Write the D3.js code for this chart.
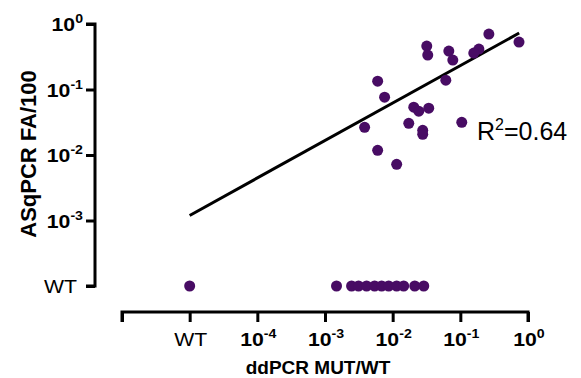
<!DOCTYPE html>
<html>
<head>
<meta charset="utf-8">
<script src="https://cdn.jsdelivr.net/npm/d3@7"></script>
<style>
  body { margin: 0; background: #fff; }
  text { font-family: "Liberation Sans", Arial, sans-serif; fill: #000; }
</style>
</head>
<body>
<div id="chart"></div>
<script>
// detected samples (ddPCR MUT/WT vs ASqPCR FA/100)
const mutX = [0.264, 0.736, 0.188, 0.158, 0.0676, 0.0774, 0.0319, 0.0330, 0.0060, 0.0076,
              0.061, 0.0205, 0.0243, 0.0341, 0.00385, 0.0173, 0.0278, 0.0278, 0.105, 0.0060, 0.01146]
const faY  = [0.703, 0.530, 0.414, 0.360, 0.386, 0.281, 0.461, 0.335, 0.134, 0.0763,
              0.139, 0.0537, 0.0466, 0.0518, 0.0265, 0.0305, 0.0238, 0.0207, 0.0316, 0.0118, 0.0072]
// samples WT by ASqPCR (plotted on the WT row)
const wtRowX = [0.00148, 0.00247, 0.00313, 0.00412, 0.00541, 0.00687, 0.00873, 0.01146, 0.01455, 0.0212, 0.0288]

// log-log fit
const fitSlope = 0.572
const fitIntercept = -0.063
const fitRange = [1e-5, 0.74]
const r2 = "0.64"

const xTicks = [1e-5, 1e-4, 1e-3, 1e-2, 1e-1, 1]
const xTickLabels = ["WT", "-4", "-3", "-2", "-1", "0"]
const yTicks = [1e-4, 1e-3, 1e-2, 1e-1, 1]
const yTickLabels = ["WT", "-3", "-2", "-1", "0"]
const X_WT = 1e-5, Y_WT = 1e-4

const width = 581, height = 378
const svg = d3.select("#chart").append("svg").attr("width", width).attr("height", height)

const x = d3.scaleLog().domain([1e-6, 1]).range([122, 528])
const y = d3.scaleLog().domain([1e-4, 1]).range([286, 24])

const color = "#480c64"
const stretch = 1.18

// axes
const xAxis = svg.append("g").attr("transform", "translate(0,312)")
    .call(d3.axisBottom(x).tickValues([1e-6, ...xTicks]).tickSize(10).tickFormat(""))
xAxis.select(".domain").attr("d", `M${x(1e-6)},10V0H${x(1)}V10`)
xAxis.selectAll("path, line").attr("stroke", "#000").attr("stroke-width", 3)

const yAxis = svg.append("g").attr("transform", "translate(95,0)")
    .call(d3.axisLeft(y).tickValues(yTicks).tickSize(9).tickFormat(""))
yAxis.select(".domain").attr("d", `M-9,${y(1e-4)}H0V${y(1)}H-9`)
yAxis.selectAll("path, line").attr("stroke", "#000").attr("stroke-width", 3)

function label(px, py, anchor, txt) {
    const t = svg.append("g").attr("transform", `translate(${px},${py}) scale(${stretch},1)`)
        .append("text").attr("text-anchor", anchor).style("font-size", "18px")
    if (txt === "WT") {
        t.text("WT")
    } else {
        t.style("font-weight", "bold")
        t.append("tspan").text("10")
        t.append("tspan").attr("dy", -8).style("font-size", "12px").text(txt)
    }
}

// tick labels
xTicks.forEach((v, i) => label(x(v) + 1, 346, "middle", xTickLabels[i]))
yTicks.forEach((v, i) => label(yTickLabels[i] === "WT" ? 77 : 83, y(v) + 7, "end", yTickLabels[i]))

// axis titles
svg.append("text").attr("x", 318).attr("y", 374).attr("text-anchor", "middle")
    .style("font-size", "19px").style("font-weight", "bold").text("ddPCR MUT/WT")
svg.append("text").attr("transform", "translate(36,154) rotate(-90)").attr("text-anchor", "middle")
    .style("font-size", "22px").style("font-weight", "bold").text("ASqPCR FA/100")

// regression line
const fit = v => Math.pow(10, fitIntercept + fitSlope * Math.log10(v))
svg.append("line")
    .attr("x1", x(fitRange[0])).attr("y1", y(fit(fitRange[0])))
    .attr("x2", x(fitRange[1])).attr("y2", y(fit(fitRange[1])))
    .attr("stroke", "#000").attr("stroke-width", 3)

// points
const pts = mutX.map((v, i) => ({x: v, y: faY[i]}))
    .concat(wtRowX.map(v => ({x: v, y: Y_WT})))
    .concat([{x: X_WT, y: Y_WT}])
svg.selectAll(".pt").data(pts).enter().append("circle")
    .attr("class", "pt")
    .attr("cx", d => x(d.x)).attr("cy", d => y(d.y))
    .attr("r", 5.5).attr("fill", color)

// R^2
const rt = svg.append("text").attr("x", 477).attr("y", 140).style("font-size", "25px")
rt.append("tspan").text("R")
rt.append("tspan").attr("dy", -10).style("font-size", "16px").text("2")
rt.append("tspan").attr("dy", 10).text("=" + r2)
</script>
</body>
</html>
